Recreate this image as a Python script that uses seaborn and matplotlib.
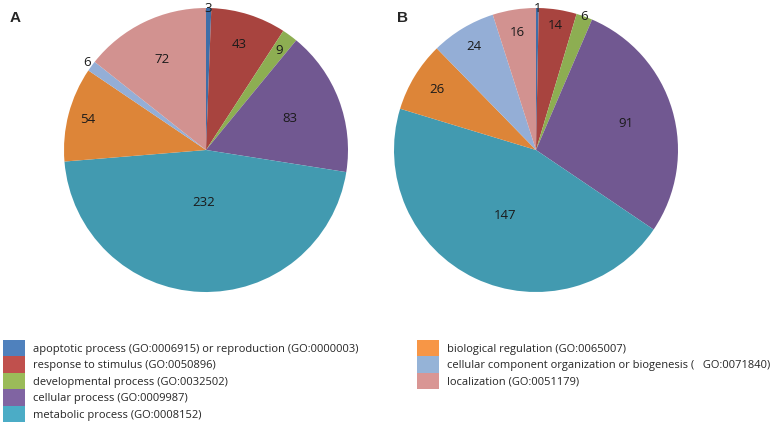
import numpy as np
import matplotlib
matplotlib.use("Agg")
import matplotlib.pyplot as plt
from matplotlib.patches import Patch
import seaborn as sns

# GO categories and counts
categories = [
    "apoptotic process (GO:0006915) or reproduction (GO:0000003)",
    "response to stimulus (GO:0050896)",
    "developmental process (GO:0032502)",
    "cellular process (GO:0009987)",
    "metabolic process (GO:0008152)",
    "biological regulation (GO:0065007)",
    "cellular component organization or biogenesis (   GO:0071840)",
    "localization (GO:0051179)",
]
counts_a = [3, 43, 9, 83, 232, 54, 6, 72]
counts_b = [1, 14, 6, 91, 147, 26, 24, 16]

# label distance from centre (fraction of radius), like Excel "best fit"
label_r_a = [1.0, 0.78, 0.87, 0.63, 0.37, 0.86, 1.04, 0.71]
label_r_b = [1.0, 0.89, 1.0, 0.66, 0.51, 0.82, 0.85, 0.84]

pie_colors = ["#3F6EA8", "#A8443F", "#8DAE52", "#715891",
              "#429AB0", "#DD8538", "#94AED6", "#D29290"]
legend_colors = ["#4F81BD", "#C0504D", "#9BBB59", "#8064A2",
                 "#4BACC6", "#F79646", "#95B3D7", "#D99694"]

sns.set_style("white")
plt.rcParams["font.family"] = ["Open Sans", "DejaVu Sans"]

fig = plt.figure(figsize=(7.73, 4.25), dpi=100)

def draw_pie(rect, values, radii, letter, letter_x):
    ax = fig.add_axes(rect)
    wedges, _ = ax.pie(values, colors=pie_colors, startangle=90,
                       counterclock=False, radius=1.0,
                       wedgeprops=dict(linewidth=0))
    for w, v, r in zip(wedges, values, radii):
        ang = np.deg2rad((w.theta1 + w.theta2) / 2)
        ax.text(r * np.cos(ang), r * np.sin(ang), str(v),
                ha="center", va="center", fontsize=9.5, color="#1a1a1a")
    ax.set_xlim(-1, 1)
    ax.set_ylim(-1, 1)
    ax.set_aspect("equal")
    ax.axis("off")
    fig.text(letter_x, 1 - 18 / 425, letter, fontsize=11, fontweight="bold",
             va="center", ha="left", family="Liberation Sans")
    return ax

draw_pie([64 / 773, 133 / 425, 284 / 773, 284 / 425], counts_a, label_r_a,
         "A", 10 / 773)
draw_pie([394 / 773, 133 / 425, 284 / 773, 284 / 425], counts_b, label_r_b,
         "B", 397 / 773)

handles = [Patch(facecolor=c, edgecolor="none") for c in legend_colors]

leg_kw = dict(frameon=False, fontsize=8, handleheight=1.9, handlelength=1.95,
              handletextpad=0.75, labelspacing=0, borderaxespad=0, borderpad=0)
leg1 = fig.legend(handles[:5], categories[:5], loc="upper left",
                  bbox_to_anchor=(3 / 773, 1 - 340 / 425), **leg_kw)
leg2 = fig.legend(handles[5:], categories[5:], loc="upper left",
                  bbox_to_anchor=(417 / 773, 1 - 340 / 425), **leg_kw)

fig.savefig("out.png", dpi=100)
